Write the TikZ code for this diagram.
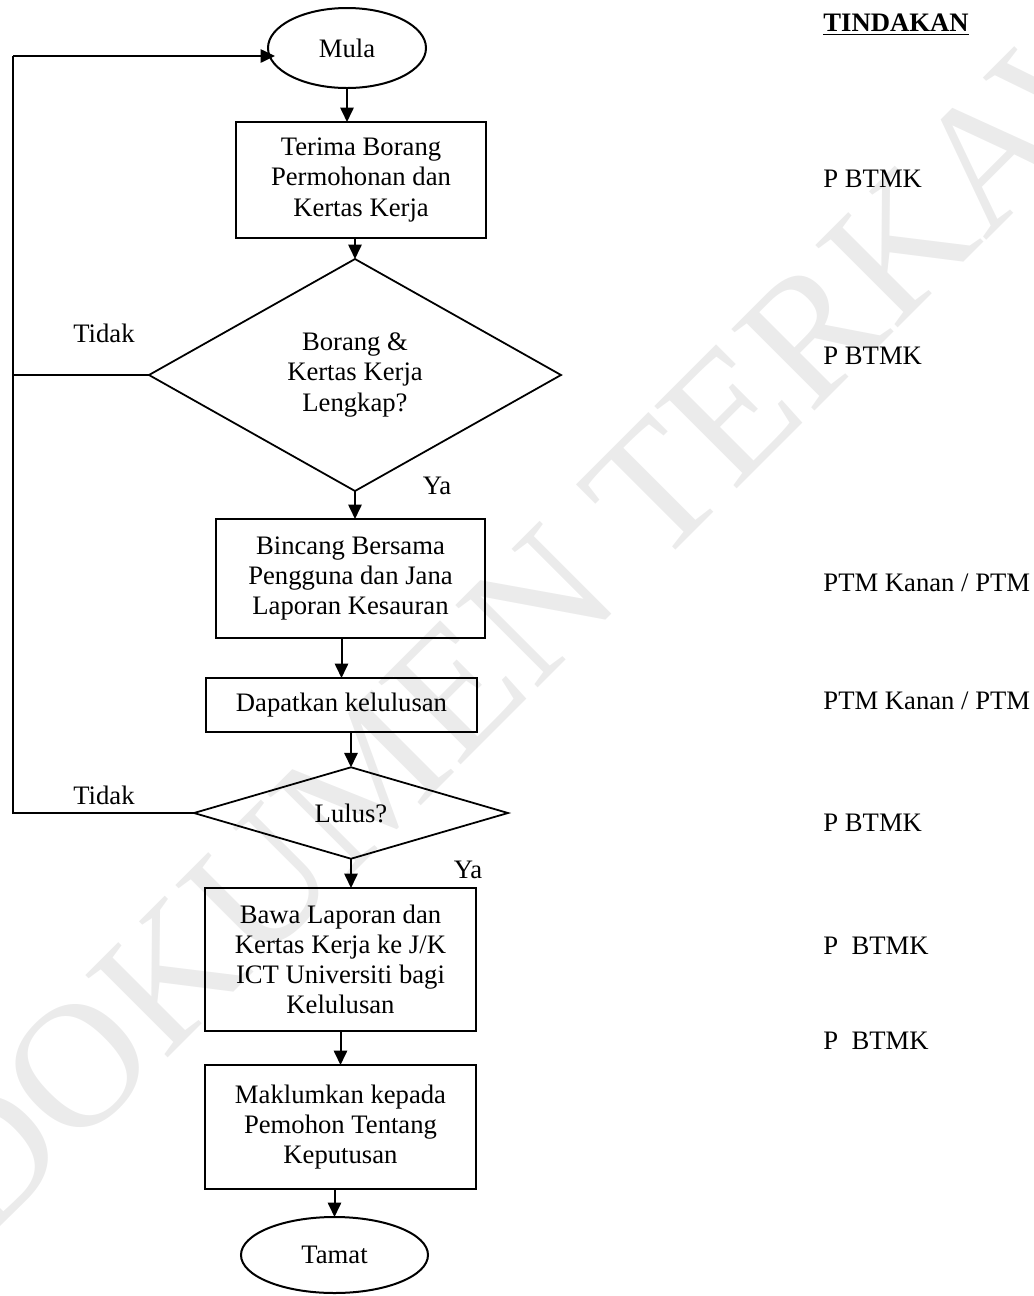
\documentclass[tikz,border=0pt]{standalone}
\usepackage{fontspec}
\setmainfont{Liberation Serif}
\usetikzlibrary{shapes.geometric,arrows.meta,calc}
\def\PX{0.45pt}
\begin{document}
\begin{tikzpicture}[x=0.45pt,y=-0.45pt,
  every node/.style={font=\fontsize{12}{13.6}\selectfont},
  proc/.style={draw,line width=0.9pt,rectangle,align=center,inner sep=0pt,outer sep=0pt},
  term/.style={draw,line width=0.9pt,ellipse,inner sep=0pt,outer sep=0pt},
  dec/.style={draw,line width=0.8pt,diamond,align=center,inner sep=0pt,outer sep=0pt},
  arr/.style={line width=0.9pt,-{Triangle[length=6.5pt,width=6pt]}},
  loopline/.style={line width=0.9pt},
  lbl/.style={inner sep=0pt},
  act/.style={anchor=base west,inner sep=0pt},
  wmark/.style={rotate=45,text=black!8,inner sep=0pt,font=\fontsize{80}{88}\selectfont}
]
\useasboundingbox (0,0) rectangle (1034,1296);
% watermark
\node[wmark] (wm) at (620,525) {DOKUMEN TERKAWAL};

% flowchart nodes
\node[term,minimum width=158*\PX,minimum height=80*\PX] (mula) at (347,48) {Mula};
\node[proc,minimum width=250*\PX,minimum height=116*\PX] (b1) at (361,180) {Terima Borang\\Permohonan dan\\Kertas Kerja};
\node[dec,minimum width=412*\PX,minimum height=232*\PX] (d1) at (355,375) {Borang \&\\Kertas Kerja\\Lengkap?};
\node[proc,minimum width=269*\PX,minimum height=119*\PX] (b2) at (350.5,578.5) {Bincang Bersama\\Pengguna dan Jana\\Laporan Kesauran};
\node[proc,minimum width=271*\PX,minimum height=54*\PX] (b3) at (341.5,705) {Dapatkan kelulusan};
\node[dec,minimum width=314*\PX,minimum height=91*\PX] (d2) at (351,813) {Lulus?};
\node[proc,minimum width=271*\PX,minimum height=143*\PX] (b4) at (340.5,959.5) {Bawa Laporan dan\\Kertas Kerja ke J/K\\ICT Universiti bagi\\Kelulusan};
\node[proc,minimum width=271*\PX,minimum height=124*\PX] (b5) at (340.5,1127) {Maklumkan kepada\\Pemohon Tentang\\Keputusan};
\node[term,minimum width=187*\PX,minimum height=76*\PX] (tamat) at (334.5,1255) {Tamat};

% labels
\node[lbl] (t1) at (104,333) {Tidak};
\node[lbl] (t2) at (104,795) {Tidak};
\node[lbl] (y1) at (437,486) {Ya};
\node[lbl] (y2) at (468,870) {Ya};

% actions column
\node[act] (a0) at (823,31) {\textbf{\underline{TINDAKAN}}};
\node[act] (a1) at (823,187) {P BTMK};
\node[act] (a2) at (823,364) {P BTMK};
\node[act] (a3) at (823,591) {PTM Kanan / PTM};
\node[act] (a4) at (823,709) {PTM Kanan / PTM};
\node[act] (a5) at (823,831) {P BTMK};
\node[act] (a6) at (823,954) {P\ \ BTMK};
\node[act] (a7) at (823,1049) {P\ \ BTMK};

% connectors
\draw[arr] (mula.south) -- (mula.south |- b1.north);
\draw[arr] (d1.north |- b1.south) -- (d1.north);
\draw[arr] (d1.south) -- (d1.south |- b2.north);
\draw[arr] (b3.north |- b2.south) -- (b3.north);
\draw[arr] (d2.north |- b3.south) -- (d2.north);
\draw[arr] (d2.south) -- (d2.south |- b4.north);
\draw[arr] (b4.south) -- (b4.south |- b5.north);
\draw[arr] (tamat.north |- b5.south) -- (tamat.north);

% loop back
\coordinate (cTop) at (13,56);
\coordinate (cBot) at (13,813);
\coordinate (mIn) at ($(mula.west |- cTop)+(7,0)$);
\draw[loopline] (d1.west) -- (d1.west -| cTop);
\draw[loopline] (d2.west) -- (cBot) -- (cTop);
\draw[arr] (cTop) -- (mIn);
\end{tikzpicture}
\end{document}
